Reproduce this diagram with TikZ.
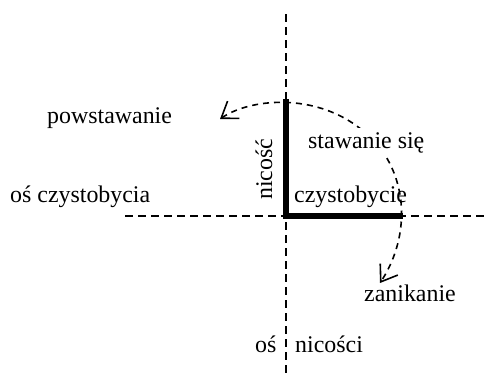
\documentclass[tikz,border=0pt]{standalone}
\usepackage{fontspec}
\setmainfont{Liberation Serif}
\usetikzlibrary{arrows.meta}
\begin{document}
\begin{tikzpicture}[x=1pt,y=-1pt,
  lbl/.style={font=\fontsize{23.9}{28}\selectfont, inner sep=0pt, anchor=base west},
  axis/.style={line width=1.6pt, dash pattern=on 8pt off 5pt},
  thickline/.style={line width=6pt},
  flow/.style={line width=1.6pt, dash pattern=on 6pt off 5pt,
    {Straight Barb[length=15pt,width=21pt,line width=1.6pt]}-{Straight Barb[length=15pt,width=21pt,line width=1.6pt]}}]
\useasboundingbox (0,0) rectangle (488,378);
% axes
\coordinate (vtop) at (286,14);
\coordinate (vbot) at (286,376);
\coordinate (hl) at (125,216);
\coordinate (hr) at (488,216);
\draw[axis] (vtop) -- (vbot);
\draw[axis] (hl) -- (hr);
% thick L
\coordinate (Ltop) at (286,99);
\coordinate (Lcorner) at (286,216);
\coordinate (Lright) at (403,216);
\draw[thickline, line join=miter] (Ltop) -- (Lcorner) -- (Lright);
% labels under curve
\node[lbl] (czysto) at (294,202) {czystobycie};
% curve
\coordinate (cstart) at (220,119);
\coordinate (cmid) at (385,155);
\coordinate (cend) at (380,283);
\draw[flow] (cstart) .. controls (255,95) and (340,90) .. (cmid)
  .. controls (410,195) and (405,245) .. (cend);
% labels
\node[lbl, fill=white, inner sep=4pt, anchor=base west] (staw) at (304,148) {stawanie się};
\node[lbl] (powst) at (47,123) {powstawanie};
\node[lbl] (osczy) at (10,202) {oś czystobycia};
\node[lbl, rotate=90] (nic) at (272,200) {nicość};
\node[lbl] (zanik) at (364,301) {zanikanie};
\node[lbl] (os) at (255,352) {oś};
\node[lbl] (nicosci) at (295,352) {nicości};
\end{tikzpicture}
\end{document}
